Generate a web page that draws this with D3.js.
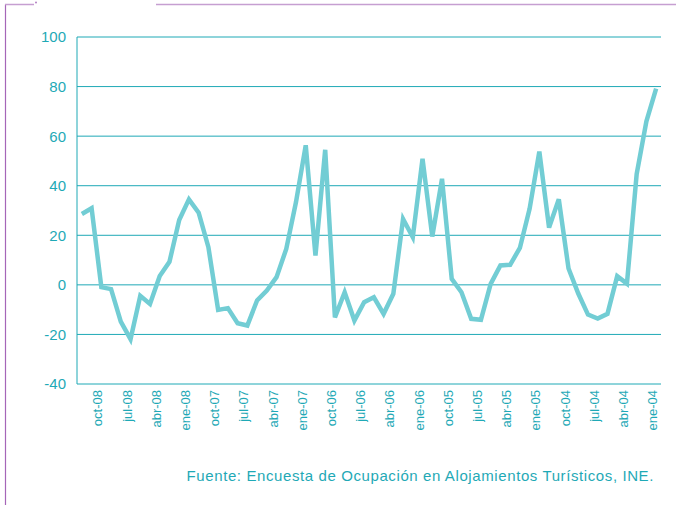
<!DOCTYPE html>
<html>
<head>
<meta charset="utf-8">
<script src="https://d3js.org/d3.v7.min.js"></script>
<style>
    body { margin: 0; background: #fff; }
    text { font-family: "Liberation Sans", Arial, sans-serif; }
</style>
</head>
<body>
<div class="chart"></div>
<script>

// months, newest first (as on the original axis)
const months = [
    "dic-08", "nov-08", "oct-08", "sep-08", "ago-08", "jul-08", "jun-08", "may-08", "abr-08", "mar-08", "feb-08", "ene-08",
    "dic-07", "nov-07", "oct-07", "sep-07", "ago-07", "jul-07", "jun-07", "may-07", "abr-07", "mar-07", "feb-07", "ene-07",
    "dic-06", "nov-06", "oct-06", "sep-06", "ago-06", "jul-06", "jun-06", "may-06", "abr-06", "mar-06", "feb-06", "ene-06",
    "dic-05", "nov-05", "oct-05", "sep-05", "ago-05", "jul-05", "jun-05", "may-05", "abr-05", "mar-05", "feb-05", "ene-05",
    "dic-04", "nov-04", "oct-04", "sep-04", "ago-04", "jul-04", "jun-04", "may-04", "abr-04", "mar-04", "feb-04", "ene-04"
];

const values = [
    28.6, 30.9, -0.9, -1.7, -14.8, -21.9, -4.4, -7.7, 3.6, 9.3, 26.2, 34.5,
    29.1, 15.2, -10.1, -9.4, -15.5, -16.4, -6.3, -2.3, 3.1, 14.5, 33.4, 56.3,
    11.8, 54.5, -13.1, -3.0, -14.4, -7.0, -5.0, -11.7, -3.6, 26.6, 19.2, 50.9,
    19.5, 42.8, 2.4, -3.0, -13.7, -14.1, 0.4, 7.8, 8.1, 14.9, 30.7, 53.8,
    23.1, 34.5, 6.6, -3.5, -12.0, -13.6, -11.7, 3.5, 0.5, 44.7, 66.0, 79.2
];

const xLabels = ["oct-08", "jul-08", "abr-08", "ene-08", "oct-07", "jul-07", "abr-07", "ene-07",
    "oct-06", "jul-06", "abr-06", "ene-06", "oct-05", "jul-05", "abr-05", "ene-05",
    "oct-04", "jul-04", "abr-04", "ene-04"];

const yTicks = [-40, -20, 0, 20, 40, 60, 80, 100];

const source = "Fuente: Encuesta de Ocupación en Alojamientos Turísticos, INE.";

const width = 676, height = 505;
const teal = "#1fa9b6";

const svg = d3.select(".chart").append("svg")
    .attr("width", width)
    .attr("height", height);

// purple frame bits
svg.append("line").attr("x1", 5.5).attr("x2", 5.5).attr("y1", 4.5).attr("y2", height)
    .attr("stroke", "#a566b8").attr("stroke-width", 1.2);
svg.append("line").attr("x1", 5).attr("x2", 34).attr("y1", 4.5).attr("y2", 4.5)
    .attr("stroke", "#c69fd1").attr("stroke-width", 1.5);
svg.append("circle").attr("cx", 36).attr("cy", 2.5).attr("r", 1).attr("fill", "#b47fc4");
svg.append("line").attr("x1", 156).attr("x2", width).attr("y1", 4.5).attr("y2", 4.5)
    .attr("stroke", "#c69fd1").attr("stroke-width", 1.5);

const x = d3.scalePoint()
    .domain(months)
    .range([77, 661])
    .padding(0.5);

const y = d3.scaleLinear()
    .domain([-40, 100])
    .range([384, 37]);

// gridlines
svg.append("g")
    .selectAll("line")
    .data(yTicks)
    .join("line")
    .attr("x1", 77)
    .attr("x2", 661)
    .attr("y1", d => y(d))
    .attr("y2", d => y(d))
    .attr("stroke", teal)
    .attr("stroke-width", 1);

// left axis line
svg.append("line")
    .attr("x1", 77).attr("x2", 77)
    .attr("y1", y(100)).attr("y2", y(-40))
    .attr("stroke", teal);

// y labels
svg.append("g")
    .selectAll("text")
    .data(yTicks)
    .join("text")
    .attr("x", 66)
    .attr("y", d => y(d))
    .attr("dy", "0.36em")
    .attr("text-anchor", "end")
    .attr("font-size", 15)
    .attr("fill", teal)
    .text(d => d);

// x labels
svg.append("g")
    .selectAll("text")
    .data(xLabels)
    .join("text")
    .attr("transform", d => "translate(" + (x(d) - 3.5) + ",390) rotate(-90)")
    .attr("dy", "0.35em")
    .attr("text-anchor", "end")
    .attr("font-size", 13)
    .attr("fill", teal)
    .text(d => d);

// the series
const line = d3.line()
    .x((d, i) => x(months[i]))
    .y(d => y(d));

svg.append("path")
    .datum(values)
    .attr("d", line)
    .attr("fill", "none")
    .attr("stroke", "#72cdd4")
    .attr("stroke-width", 4.5)
    .attr("stroke-linejoin", "miter");

// source
svg.append("text")
    .attr("x", 654)
    .attr("y", 481)
    .attr("text-anchor", "end")
    .attr("font-size", 15)
    .attr("letter-spacing", 0.6)
    .attr("fill", teal)
    .text(source);

</script>
</body>
</html>
